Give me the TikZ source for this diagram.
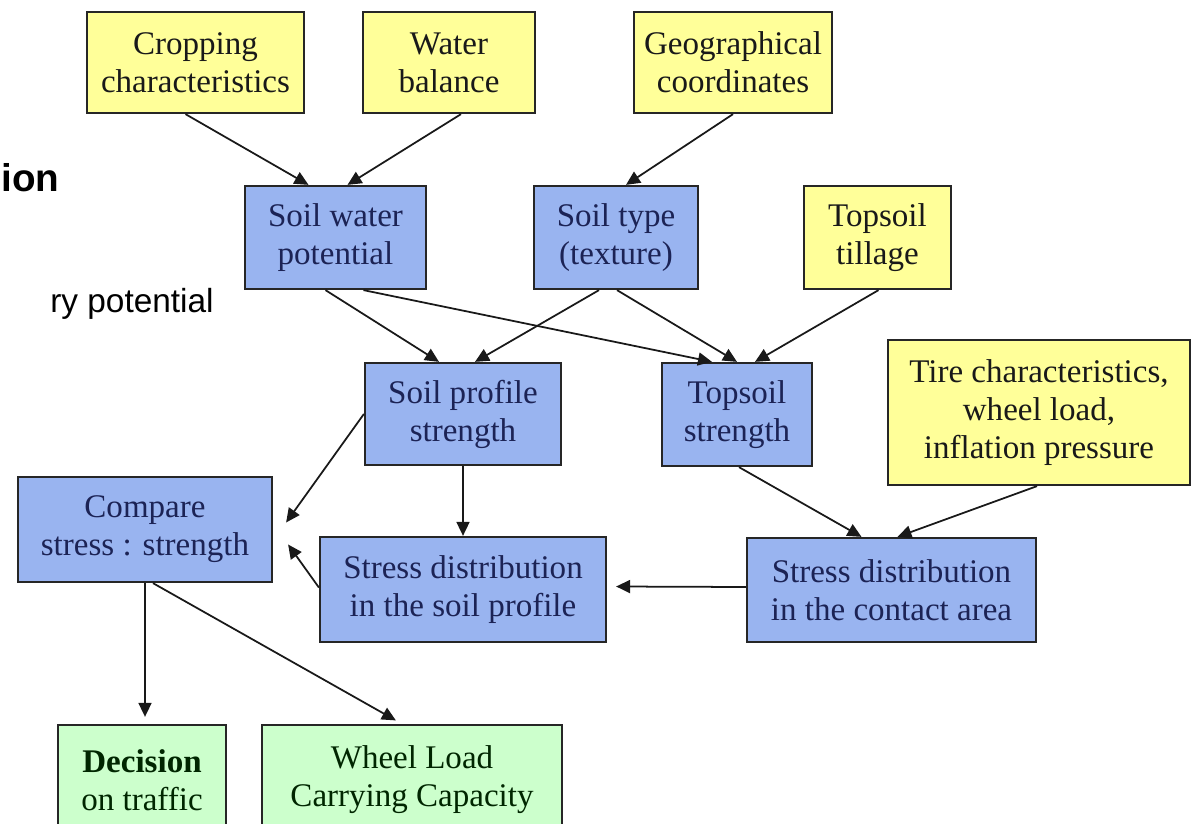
\documentclass[tikz,border=0pt]{standalone}
\usepackage{fontspec}
\setmainfont{Liberation Serif}
\newfontfamily\slidefont{Liberation Sans}
\usetikzlibrary{calc,arrows.meta}

\definecolor{boxyellow}{HTML}{FFFF99}
\definecolor{boxblue}{HTML}{99B4F0}
\definecolor{boxgreen}{HTML}{CCFFCC}
\definecolor{navytext}{HTML}{1C2355}

\begin{document}
\begin{tikzpicture}[x=0.02cm, y=-0.02cm,
    box/.style={draw=black!85, line width=1.3pt, align=center, inner sep=0pt,
      font=\fontsize{18.8}{21.6}\selectfont},
    yellowbox/.style={box, fill=boxyellow, text=black!90},
    bluebox/.style={box, fill=boxblue, text=navytext},
    greenbox/.style={box, fill=boxgreen, text=black!85!green},
    arr/.style={-{Triangle[length=2.8mm, width=2.6mm]}, line width=1pt, black!90}]

    \useasboundingbox (0,0) rectangle (1196,824);
    \clip (0,0) rectangle (1196,824);

    % Slide text at the left
    \node[anchor=base west, inner sep=0pt, font=\slidefont\bfseries\fontsize{22}{26}\selectfont] (ion) at (1,192) {ion};
    \node[anchor=base west, inner sep=0pt, font=\slidefont\fontsize{19}{23}\selectfont] (potential) at (50,312) {ry potential};

    % Input boxes
    \node[yellowbox, minimum width=4.34cm, minimum height=2.02cm] (crop) at (195.5,62.5) {Cropping\\characteristics};
    \node[yellowbox, minimum width=3.44cm, minimum height=2.02cm] (water) at (449,62.5) {Water\\balance};
    \node[yellowbox, minimum width=3.96cm, minimum height=2.02cm] (geo) at (733,62.5) {Geographical\\coordinates};
    \node[yellowbox, minimum width=2.94cm, minimum height=2.06cm] (tillage) at (877.5,237.5) {Topsoil\\tillage};
    \node[yellowbox, minimum width=6.04cm, minimum height=2.9cm] (tire) at (1039,412.5) {Tire characteristics,\\wheel load,\\inflation pressure};

    % Soil boxes
    \node[bluebox, minimum width=3.62cm, minimum height=2.06cm] (swp) at (335.5,237.5) {Soil water\\potential};
    \node[bluebox, minimum width=3.28cm, minimum height=2.06cm] (soiltype) at (616,237.5) {Soil type\\(texture)};
    \node[bluebox, minimum width=3.92cm, minimum height=2.04cm] (profile) at (463,414) {Soil profile\\strength};
    \node[bluebox, minimum width=3.0cm, minimum height=2.06cm] (topsoil) at (737,414.5) {Topsoil\\strength};
    \node[bluebox, minimum width=5.08cm, minimum height=2.1cm] (compare) at (145,529.5) {Compare\\stress : strength};
    \node[bluebox, minimum width=5.72cm, minimum height=2.1cm] (stressprof) at (463,589.5) {Stress distribution\\in the soil profile};
    \node[bluebox, minimum width=5.78cm, minimum height=2.08cm] (stresscont) at (891.5,590) {Stress distribution\\in the contact area};

    % Results
    \node[greenbox, minimum width=3.36cm, minimum height=2.2cm] (decision) at (142,780) {\textbf{Decision}\\on traffic};
    \node[greenbox, minimum width=6.0cm, minimum height=2.2cm] (wheel) at (412,780) {Wheel Load\\Carrying Capacity};

    % Connections
    \draw[arr] ($(crop.south)+(-10,0)$) -- ($(swp.north)+(-27,0)$);
    \draw[arr] ($(water.south)+(12,0)$) -- ($(swp.north)+(12,0)$);
    \draw[arr] (geo.south) -- ($(soiltype.north)+(10,0)$);
    \draw[arr] ($(swp.south)+(-10,0)$) -- ($(profile.north)+(-24,0)$);
    \draw[arr] ($(swp.south)+(28,0)$) -- ($(topsoil.north)+(-25,0)$);
    \draw[arr] ($(soiltype.south)+(-17,0)$) -- ($(profile.north)+(12,0)$);
    \draw[arr] ($(soiltype.south)+(1,0)$) -- (topsoil.north);
    \draw[arr] ($(tillage.south)+(1,0)$) -- ($(topsoil.north)+(18,0)$);
    \draw[arr] (profile.west) -- ($(compare.east)+(13,-7)$);
    \draw[arr] ($(stressprof.west)+(0,-2)$) -- ($(compare.east)+(15,15)$);
    \draw[arr] (profile.south) -- (stressprof.north);
    \draw[arr, shorten >=4pt] (compare.south) -- ($(decision.north)+(3,0)$);
    \draw[arr, shorten >=4pt] ($(compare.south)+(8,0)$) -- ($(wheel.north)+(-10,0)$);
    \draw[arr] ($(topsoil.south)+(2,0)$) -- ($(stresscont.north)+(-30,0)$);
    \draw[arr] ($(tire.south)+(-2,0)$) -- ($(stresscont.north)+(6,0)$);
    \draw[arr] ($(stresscont.west)+(0,-3)$) -- ($(stressprof.east)+(9,-3)$);
\end{tikzpicture}
\end{document}
